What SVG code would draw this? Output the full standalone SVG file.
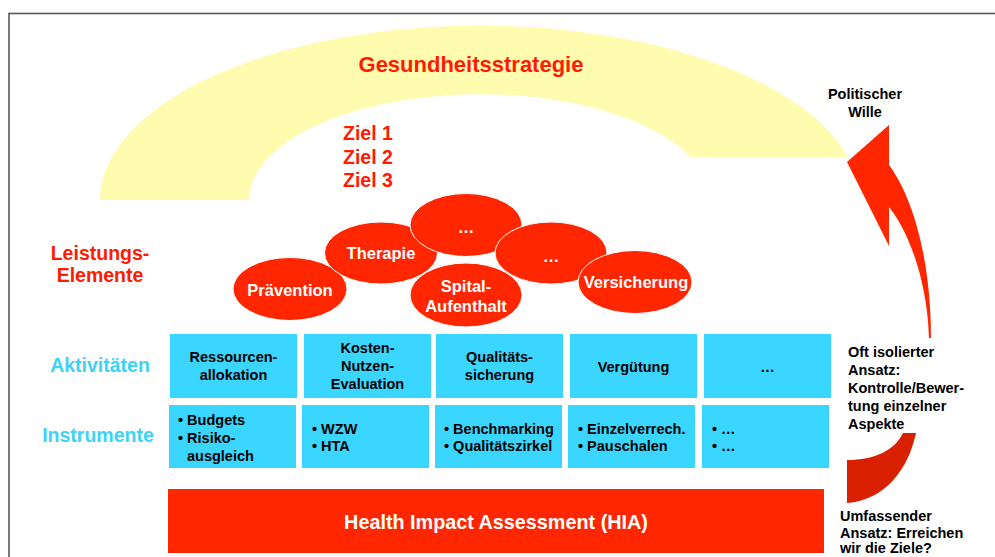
<svg xmlns="http://www.w3.org/2000/svg" width="995" height="557" viewBox="0 0 995 557">
<defs>
<style>
text{font-family:"Liberation Sans",Arial,sans-serif;font-weight:bold}
.red{fill:#FF1A00}
.lbl{font-size:19.5px}
.cy{fill:#3DD3F6}
.el{fill:#FF2600;stroke:#FFFFFF;stroke-width:1}
.et{fill:#FFFFFF;font-size:16.5px;text-anchor:middle}
.box{fill:#3AD6FF}
.bt{fill:#000000;font-size:14.5px;text-anchor:middle}
.it{fill:#000000;font-size:14.5px}
.side{fill:#000000;font-size:14.5px}
</style>
</defs>
<rect x="0" y="0" width="995" height="557" fill="#FFFFFF"/>
<rect x="9" y="13.5" width="1000" height="600" fill="none" stroke="#5A5A5A" stroke-width="1.6"/>

<g id="strategie">
<path d="M100,200 A380,175 0 0 1 848,157 L691,157 A231,106 0 0 0 249,200 Z" fill="#FFFBAF"/>
<text x="471" y="72" class="red" style="font-size:22px" text-anchor="middle">Gesundheitsstrategie</text>
</g>

<g id="ziele">
<text x="343" y="140" class="red lbl">Ziel 1</text>
<text x="343" y="163.5" class="red lbl">Ziel 2</text>
<text x="343" y="187" class="red lbl">Ziel 3</text>
</g>

<g id="labels">
<text x="100" y="260" class="red lbl" text-anchor="middle">Leistungs-</text>
<text x="100" y="282" class="red lbl" text-anchor="middle">Elemente</text>
<text x="100" y="372" class="cy lbl" text-anchor="middle">Aktivitäten</text>
<text x="98" y="442" class="cy lbl" text-anchor="middle">Instrumente</text>
</g>

<g id="e-praevention"><ellipse cx="290" cy="289" rx="57" ry="31.5" class="el"/><text x="290" y="296" class="et">Prävention</text></g>
<g id="e-therapie"><ellipse cx="381" cy="253" rx="56.5" ry="31" class="el"/><text x="381" y="259" class="et">Therapie</text></g>
<g id="e-dots1"><ellipse cx="466" cy="225" rx="56" ry="31.5" class="el"/><text x="466" y="233" class="et">…</text></g>
<g id="e-dots2"><ellipse cx="551" cy="253" rx="56" ry="31" class="el"/><text x="551" y="262" class="et">…</text></g>
<g id="e-spital"><ellipse cx="466" cy="295" rx="56" ry="32" class="el"/><text x="466" y="292" class="et">Spital-</text><text x="466" y="312" class="et">Aufenthalt</text></g>
<g id="e-versicherung"><ellipse cx="635" cy="282" rx="57" ry="31.5" class="el"/><text x="636" y="288" class="et">Versicherung</text></g>

<g id="a-ressourcen"><rect x="170" y="334" width="127" height="64" class="box"/><text x="233.5" y="362" class="bt">Ressourcen-</text><text x="233.5" y="380" class="bt">allokation</text></g>
<g id="a-kosten"><rect x="304" y="334" width="127" height="64" class="box"/><text x="367.5" y="353" class="bt">Kosten-</text><text x="367.5" y="371" class="bt">Nutzen-</text><text x="367.5" y="389" class="bt">Evaluation</text></g>
<g id="a-qualitaet"><rect x="436" y="334" width="127" height="64" class="box"/><text x="499.5" y="362" class="bt">Qualitäts-</text><text x="499.5" y="380" class="bt">sicherung</text></g>
<g id="a-verguetung"><rect x="570" y="334" width="127" height="64" class="box"/><text x="633.5" y="372" class="bt">Vergütung</text></g>
<g id="a-dots"><rect x="704" y="334" width="127" height="64" class="box"/><text x="767.5" y="372" class="bt">…</text></g>

<g id="i-budgets"><rect x="169" y="405" width="127" height="63" class="box"/><text x="178" y="425" class="it">• Budgets</text><text x="178" y="443" class="it">• Risiko-</text><text x="187" y="461" class="it">ausgleich</text></g>
<g id="i-wzw"><rect x="302" y="405" width="127" height="63" class="box"/><text x="312" y="434" class="it">• WZW</text><text x="312" y="451" class="it">• HTA</text></g>
<g id="i-bench"><rect x="435" y="405" width="127" height="63" class="box"/><text x="444" y="434" class="it">• Benchmarking</text><text x="444" y="451" class="it">• Qualitätszirkel</text></g>
<g id="i-einzel"><rect x="568" y="405" width="127" height="63" class="box"/><text x="578" y="434" class="it">• Einzelverrech.</text><text x="578" y="451" class="it">• Pauschalen</text></g>
<g id="i-dots"><rect x="702" y="405" width="127" height="63" class="box"/><text x="712" y="434" class="it">• …</text><text x="712" y="451" class="it">• …</text></g>

<g id="hia"><rect x="168" y="489" width="656" height="64" fill="#FF2600"/><text x="496" y="529" fill="#FFFFFF" style="font-size:19.8px" text-anchor="middle">Health Impact Assessment (HIA)</text></g>

<g id="connectors">
<path d="M889,125 L847,162 L889,246 L889,207 C906,228 927,275 929,338 L931,338 C931,265 915,200 889,165 Z" fill="#FF2600"/>
<path d="M903,433 L916,433 C908,470 885,500 847,503 L847,460 C875,460 895,450 903,433 Z" fill="#D92000"/>
</g>

<g id="side-texts">
<text x="865" y="99" class="side" text-anchor="middle">Politischer</text>
<text x="865" y="117" class="side" text-anchor="middle">Wille</text>
<text x="848" y="357" class="side">Oft isolierter</text>
<text x="848" y="375" class="side">Ansatz:</text>
<text x="848" y="393" class="side">Kontrolle/Bewer-</text>
<text x="848" y="411" class="side">tung einzelner</text>
<text x="848" y="429" class="side">Aspekte</text>
<text x="840" y="521" class="side">Umfassender</text>
<text x="840" y="537.5" class="side">Ansatz: Erreichen</text>
<text x="840" y="553" class="side">wir die Ziele?</text>
</g>
</svg>
